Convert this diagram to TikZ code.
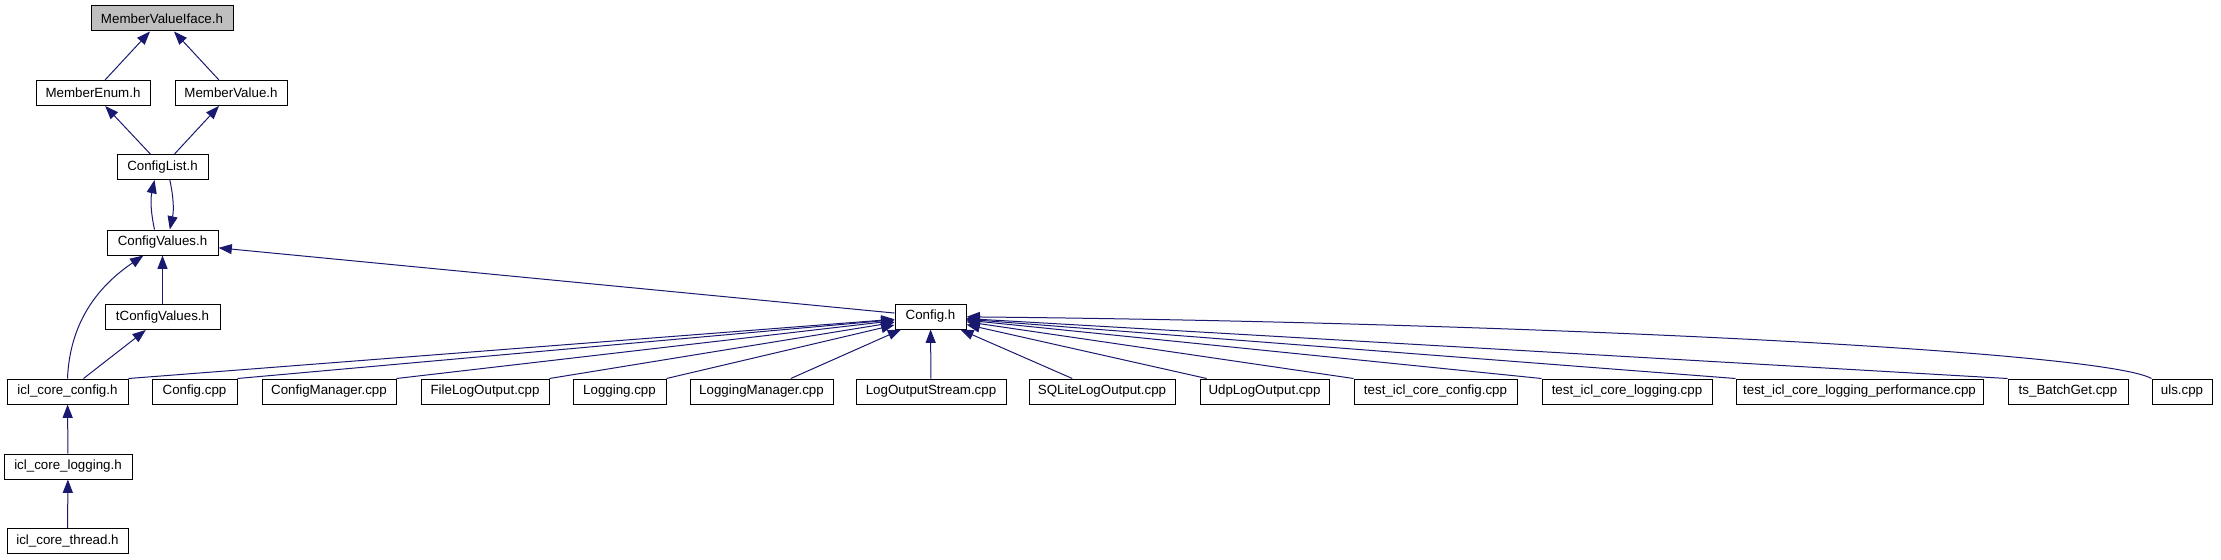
\documentclass[tikz,border=0pt]{standalone}
\usepackage{fontspec}
\setmainfont{Liberation Sans}
\usetikzlibrary{arrows.meta}
\definecolor{edgeblue}{HTML}{191970}
\definecolor{rootgray}{HTML}{BFBFBF}
\begin{document}
\begin{tikzpicture}[x=0.75pt,y=-0.75pt]
            \tikzstyle{filenode} = [rectangle,draw=black,line width=0.75pt,fill=white,minimum height=18.75pt,inner sep=0pt,font=\fontsize{10}{12}\selectfont]
            \tikzstyle{incl} = [draw=edgeblue,line width=0.75pt,-{Triangle[length=10pt,width=7.5pt]}]
            \useasboundingbox (0,0) rectangle (2221,560);
            % header chain
            \node[filenode,fill=rootgray,minimum width=106.5pt] (iface) at (162,18.5) {MemberValueIface.h};
            \node[filenode,minimum width=85.5pt] (menum) at (93,93) {MemberEnum.h};
            \node[filenode,minimum width=84pt] (mvalue) at (231,93) {MemberValue.h};
            \node[filenode,minimum width=68.25pt] (clist) at (162.5,167) {ConfigList.h};
            \node[filenode,minimum width=83.25pt] (cvalues) at (162.5,242.5) {ConfigValues.h};
            \node[filenode,minimum width=86.25pt] (tcvalues) at (162.5,317) {tConfigValues.h};
            \node[filenode,minimum width=53.25pt] (configh) at (930.5,316.5) {Config.h};
            % bottom row
            \node[filenode,minimum width=90.75pt] (coreconfig) at (67.5,391.5) {icl\_core\_config.h};
            \node[filenode,minimum width=63.75pt] (configcpp) at (194.5,391.5) {Config.cpp};
            \node[filenode,minimum width=100.5pt] (cmanager) at (329,391.5) {ConfigManager.cpp};
            \node[filenode,minimum width=96pt] (filelog) at (485,391.5) {FileLogOutput.cpp};
            \node[filenode,minimum width=69.75pt] (logging) at (619.5,391.5) {Logging.cpp};
            \node[filenode,minimum width=107.25pt] (logmanager) at (761.5,391.5) {LoggingManager.cpp};
            \node[filenode,minimum width=112.5pt] (logstream) at (931,391.5) {LogOutputStream.cpp};
            \node[filenode,minimum width=109.5pt] (sqlite) at (1102,391.5) {SQLiteLogOutput.cpp};
            \node[filenode,minimum width=96.75pt] (udp) at (1264.5,391.5) {UdpLogOutput.cpp};
            \node[filenode,minimum width=122.25pt] (testconfig) at (1435.5,391.5) {test\_icl\_core\_config.cpp};
            \node[filenode,minimum width=127.5pt] (testlogging) at (1627,391.5) {test\_icl\_core\_logging.cpp};
            \node[filenode,minimum width=185.25pt] (testperf) at (1859.5,391.5) {test\_icl\_core\_logging\_performance.cpp};
            \node[filenode,minimum width=90pt] (batchget) at (2068,391.5) {ts\_BatchGet.cpp};
            \node[filenode,minimum width=45pt] (uls) at (2182,391.5) {uls.cpp};
            \node[filenode,minimum width=96pt] (corelogging) at (68,466.5) {icl\_core\_logging.h};
            \node[filenode,minimum width=90.75pt] (corethread) at (67.5,541) {icl\_core\_thread.h};
            % includes
            \draw[incl] (menum) -- (iface);
            \draw[incl] (mvalue) -- (iface);
            \draw[incl] (clist) -- (menum);
            \draw[incl] (clist) -- (mvalue);
            \draw[incl] ([xshift=-6pt]cvalues.north) to[bend left=12] ([xshift=-6pt]clist.south);
            \draw[incl] ([xshift=5.5pt]clist.south) to[bend left=12] ([xshift=5.5pt]cvalues.north);
            \draw[incl] (tcvalues) -- (cvalues);
            \draw[incl] (configh) -- (cvalues);
            \draw[incl] (coreconfig.north) .. controls (70,320) and (100,285) .. (cvalues);
            \draw[incl] ([xshift=12pt]coreconfig.north) -- (tcvalues);
            \draw[incl] (corelogging) -- (coreconfig);
            \draw[incl] (corethread) -- (corelogging);
            \draw[incl] (coreconfig.north east) -- (configh);
            \draw[incl] (configcpp.north east) -- (configh);
            \draw[incl] (cmanager.north east) -- (configh);
            \draw[incl] (filelog.north east) -- (configh);
            \draw[incl] (logging.north east) -- (configh);
            \draw[incl] (logmanager) -- (configh);
            \draw[incl] (logstream) -- (configh);
            \draw[incl] (sqlite) -- (configh);
            \draw[incl] (udp) -- (configh);
            \draw[incl] (testconfig.north west) -- (configh);
            \draw[incl] (testlogging.north west) -- (configh);
            \draw[incl] (testperf.north west) -- (configh);
            \draw[incl] (batchget.north west) -- (configh);
            \draw[incl] (uls.north west) .. controls (2100,350) and (1500,322) .. (configh);
\end{tikzpicture}
\end{document}
